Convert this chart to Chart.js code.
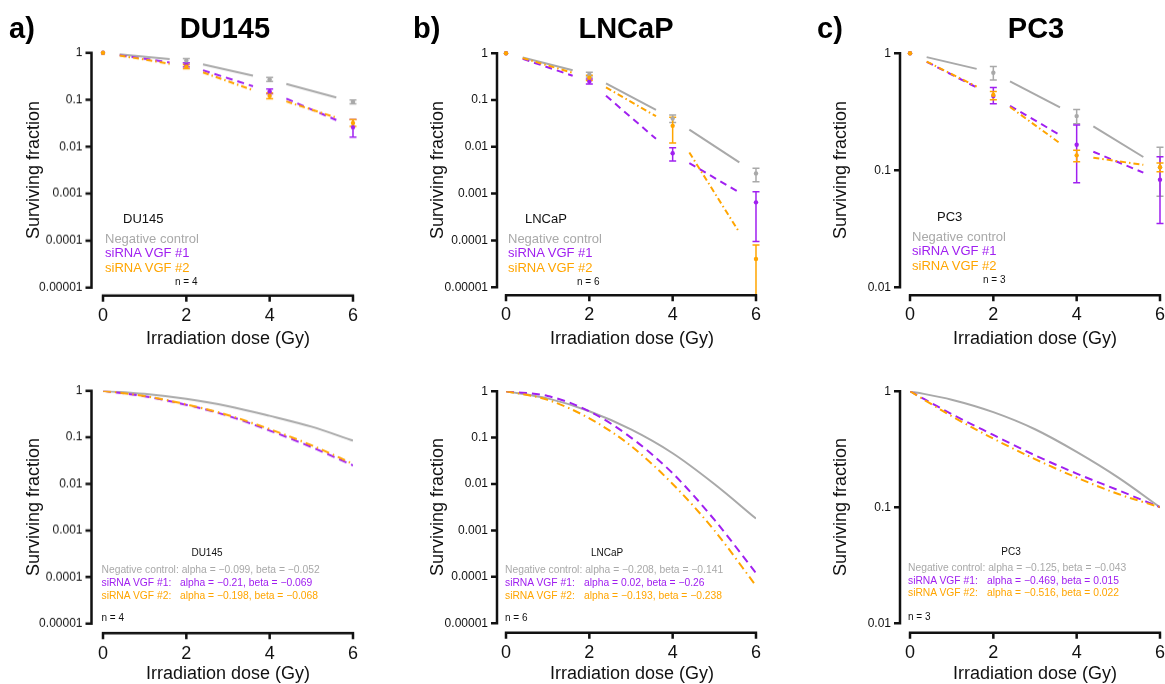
<!DOCTYPE html>
<html>
<head>
<meta charset="utf-8">
<script src="https://cdn.jsdelivr.net/npm/chart.js@4.4.0/dist/chart.umd.min.js"></script>
<style>
  html, body { margin: 0; padding: 0; background: #fff; }
  body { width: 1165px; height: 684px; position: relative; overflow: hidden; font-family: "Liberation Sans", Arial, sans-serif; }
  canvas { position: absolute; }
  .t { position: absolute; white-space: nowrap; line-height: 1; }
</style>
</head>
<body>
<script>
// --- Data ---
const doses = [0, 2, 4, 6];
const doseTicks = [0, 2, 4, 6];
const fitDoses = [0, 1, 2, 3, 4, 5, 6];
const seriesNames = ["Negative control", "siRNA VGF #1", "siRNA VGF #2"];
const wideTicks = [1, 0.1, 0.01, 0.001, 0.0001, 0.00001];
const wideTickLabels = ["1", "0.1", "0.01", "0.001", "0.0001", "0.00001"];
const pc3Ticks = [1, 0.1, 0.01];
const pc3TickLabels = ["1", "0.1", "0.01"];

// measured surviving fraction (mean, lower and upper end of error bar)
const du145Control = [1, 0.68, 0.27, 0.09];
const du145ControlLow = [null, 0.61, 0.245, 0.082];
const du145ControlHigh = [null, 0.75, 0.30, 0.099];
const du145Vgf1 = [1, 0.55, 0.15, 0.026];
const du145Vgf1Low = [null, 0.50, 0.135, 0.016];
const du145Vgf1High = [null, 0.61, 0.17, 0.038];
const du145Vgf2 = [1, 0.51, 0.12, 0.032];
const du145Vgf2Low = [null, 0.46, 0.105, 0.027];
const du145Vgf2High = [null, 0.56, 0.14, 0.038];

const lncapControl = [1, 0.35, 0.040, 0.0027];
const lncapControlLow = [null, 0.31, 0.033, 0.0018];
const lncapControlHigh = [null, 0.39, 0.048, 0.0035];
const lncapVgf1 = [1, 0.25, 0.0073, 0.00065];
const lncapVgf1Low = [null, 0.22, 0.005, 0.000095];
const lncapVgf1High = [null, 0.28, 0.0095, 0.0011];
const lncapVgf2 = [1, 0.30, 0.028, 0.00004];
const lncapVgf2Low = [null, 0.26, 0.012, 0.000001];
const lncapVgf2High = [null, 0.34, 0.043, 0.00008];

const pc3Control = [1, 0.68, 0.29, 0.106];
const pc3ControlLow = [null, 0.59, 0.25, 0.06];
const pc3ControlHigh = [null, 0.77, 0.33, 0.157];
const pc3Vgf1 = [1, 0.43, 0.165, 0.083];
const pc3Vgf1Low = [null, 0.37, 0.078, 0.035];
const pc3Vgf1High = [null, 0.51, 0.243, 0.13];
const pc3Vgf2 = [1, 0.44, 0.134, 0.106];
const pc3Vgf2Low = [null, 0.40, 0.118, 0.097];
const pc3Vgf2High = [null, 0.47, 0.148, 0.115];

// linear-quadratic fit curves, read at 1 Gy steps
const du145FitControl = [1, 0.86, 0.67, 0.47, 0.29, 0.17, 0.085];
const du145FitVgf1 = [1, 0.76, 0.50, 0.29, 0.14, 0.062, 0.025];
const du145FitVgf2 = [1, 0.77, 0.51, 0.30, 0.15, 0.068, 0.027];
const lncapFitControl = [1, 0.70, 0.37, 0.15, 0.046, 0.010, 0.0018];
const lncapFitVgf1 = [1, 0.79, 0.37, 0.10, 0.017, 0.0017, 0.00012];
const lncapFitVgf2 = [1, 0.65, 0.26, 0.066, 0.010, 0.001, 0.000064];
const pc3FitControl = [1, 0.845, 0.66, 0.47, 0.30, 0.18, 0.10];
const pc3FitVgf1 = [1, 0.635, 0.42, 0.28, 0.195, 0.14, 0.10];
const pc3FitVgf2 = [1, 0.61, 0.39, 0.26, 0.18, 0.13, 0.10];

const du145FitText = ["alpha = \u22120.099, beta = \u22120.052", "alpha = \u22120.21, beta = \u22120.069", "alpha = \u22120.198, beta = \u22120.068"];
const lncapFitText = ["alpha = \u22120.208, beta = \u22120.141", "alpha = 0.02, beta = \u22120.26", "alpha = \u22120.193, beta = \u22120.238"];
const pc3FitText = ["alpha = \u22120.125, beta = \u22120.043", "alpha = \u22120.469, beta = 0.015", "alpha = \u22120.516, beta = 0.022"];

// --- Styles ---
const FONT = "'Liberation Sans', Arial, sans-serif";
const COLORS = ["#a9a9a9", "#a020f0", "#ffa500"];
const DASHES = [[], [7, 5], [6, 3, 1.5, 3]];
const FIT_DASHES = [[], [8, 5], [8, 4, 1.5, 4]];

// draws the detached GraphPad-style axes
const offsetAxes = {
  id: "offsetAxes",
  afterDraw(chart, args, opts) {
    const { ctx } = chart;
    const x = chart.scales.x, y = chart.scales.y;
    const ax = x.getPixelForValue(0) - opts.gapX;
    const ay = y.getPixelForValue(y.min) + opts.gapY;
    ctx.save();
    ctx.strokeStyle = "#111";
    ctx.lineWidth = 2.5;
    ctx.beginPath();
    ctx.moveTo(ax, y.getPixelForValue(y.max) - 1.2);
    ctx.lineTo(ax, y.getPixelForValue(y.min) + 1.2);
    y.ticks.forEach((t) => {
      const py = y.getPixelForValue(t.value);
      ctx.moveTo(ax - 6, py);
      ctx.lineTo(ax, py);
    });
    ctx.moveTo(x.getPixelForValue(0) - 1.2, ay);
    ctx.lineTo(x.getPixelForValue(6) + 1.2, ay);
    x.ticks.forEach((t) => {
      const px = x.getPixelForValue(t.value);
      ctx.moveTo(px, ay);
      ctx.lineTo(px, ay + 6);
    });
    ctx.stroke();
    ctx.restore();
  },
};

// connecting lines with gaps near the points, plus error bars
const gapLines = {
  id: "gapLines",
  beforeDatasetsDraw(chart, args, opts) {
    const { ctx } = chart;
    const x = chart.scales.x, y = chart.scales.y;
    const floor = y.getPixelForValue(y.min) + opts.gapY;
    chart.data.datasets.forEach((ds) => {
      if (!ds.low) return;
      const pts = ds.data.map((p) => [x.getPixelForValue(p.x), y.getPixelForValue(p.y)]);
      ctx.save();
      ctx.strokeStyle = ds.borderColor;
      ctx.lineWidth = 2;
      ctx.setLineDash(ds.dash);
      for (let i = 0; i < pts.length - 1; i++) {
        const [x1, y1] = pts[i];
        const [x2, y2] = pts[i + 1];
        ctx.beginPath();
        ctx.moveTo(x1 + 0.2 * (x2 - x1), y1 + 0.2 * (y2 - y1));
        ctx.lineTo(x1 + 0.8 * (x2 - x1), y1 + 0.8 * (y2 - y1));
        ctx.stroke();
      }
      ctx.setLineDash([]);
      ctx.lineWidth = 1.5;
      ds.data.forEach((p, i) => {
        if (ds.low[i] == null) return;
        const px = x.getPixelForValue(p.x);
        const top = y.getPixelForValue(ds.high[i]);
        const rawBot = y.getPixelForValue(ds.low[i]);
        const bot = Math.min(rawBot, floor);
        ctx.beginPath();
        ctx.moveTo(px, top);
        ctx.lineTo(px, bot);
        ctx.moveTo(px - 3.5, top);
        ctx.lineTo(px + 3.5, top);
        if (rawBot < floor) {
          ctx.moveTo(px - 3.5, bot);
          ctx.lineTo(px + 3.5, bot);
        }
        ctx.stroke();
      });
      ctx.restore();
    });
  },
};

function measured(values, low, high, k) {
  return {
    label: seriesNames[k],
    data: doses.map((d, i) => ({ x: d, y: values[i] })),
    low: low,
    high: high,
    dash: DASHES[k],
    borderColor: COLORS[k],
    backgroundColor: COLORS[k],
    pointBackgroundColor: COLORS[k],
    pointBorderWidth: 0,
    pointRadius: 2.2,
    showLine: false,
    order: 3 - k,
    clip: false,
  };
}

function fitted(values, k) {
  return {
    label: seriesNames[k],
    data: fitDoses.map((d, i) => ({ x: d, y: values[i] })),
    borderColor: COLORS[k],
    borderWidth: 2,
    borderDash: FIT_DASHES[k],
    pointRadius: 0,
    cubicInterpolationMode: "monotone",
    order: 3 - k,
  };
}

function makePanel(geo, yTicks, yLabels, datasets) {
  const canvas = document.createElement("canvas");
  let w = geo.x6 - geo.x0 + 100, h = geo.yBot - geo.yTop + 70;
  canvas.width = w;
  canvas.height = h;
  canvas.style.width = w + "px";
  canvas.style.height = h + "px";
  document.body.appendChild(canvas);
  const gapX = geo.x0 - geo.yAxisX;
  const gapY = geo.xAxisY - geo.yBot;
  const chart = new Chart(canvas, {
    type: "line",
    data: { datasets },
    options: {
      responsive: false,
      maintainAspectRatio: false,
      animation: false,
      devicePixelRatio: 1,
      layout: { padding: { left: 0, right: 12, top: 12, bottom: 0 } },
      plugins: {
        legend: { display: false },
        tooltip: { enabled: false },
        offsetAxes: { gapX, gapY },
        gapLines: { gapY },
      },
      scales: {
        x: {
          type: "linear",
          min: 0,
          max: 6,
          afterBuildTicks: (s) => { s.ticks = doseTicks.map((v) => ({ value: v })); },
          afterFit: (s) => { s.height = 50; },
          grid: { display: false, drawTicks: false },
          border: { display: false },
          ticks: { padding: geo.xLabelY - geo.yBot - 10.8, color: "#111", font: { family: FONT, size: 18 }, maxRotation: 0, autoSkip: false },
        },
        y: {
          type: "logarithmic",
          min: yTicks[yTicks.length - 1],
          max: 1,
          afterBuildTicks: (s) => { s.ticks = yTicks.map((v) => ({ value: v })); },
          afterFit: (s) => { s.width = 80; },
          grid: { display: false, drawTicks: false },
          border: { display: false },
          ticks: {
            padding: gapX + 9,
            color: "#111",
            font: { family: FONT, size: 12 },
            autoSkip: false,
            callback: (v) => { const i = yTicks.indexOf(v); return i < 0 ? "" : yLabels[i]; },
          },
        },
      },
    },
    plugins: [gapLines, offsetAxes],
  });
  // size the canvas so the plot area spans exactly the wanted pixels
  let ca = chart.chartArea;
  w += (geo.x6 - geo.x0) - (ca.right - ca.left);
  h += (geo.yBot - geo.yTop) - (ca.bottom - ca.top);
  chart.resize(w, h);
  ca = chart.chartArea;
  canvas.style.left = (geo.x0 - ca.left) + "px";
  canvas.style.top = (geo.yTop - ca.top) + "px";
}

function put(text, x, y, size, color, opts = {}) {
  const d = document.createElement("div");
  d.className = "t";
  d.textContent = text;
  d.style.left = x + "px";
  d.style.top = y + "px";
  d.style.fontSize = size + "px";
  d.style.color = color;
  if (opts.bold) d.style.fontWeight = "bold";
  const tx = opts.center || opts.rotate ? "-50%" : "0";
  d.style.transform = "translate(" + tx + ", -50%)" + (opts.rotate ? " rotate(-90deg)" : "");
  document.body.appendChild(d);
}

// --- Panels ---
const topRow = { yTop: 53, yBot: 287, xAxisY: 295, xLabelY: 315 };
const bottomRow = { yTop: 391, yBot: 623, xAxisY: 632.5, xLabelY: 653 };

makePanel(Object.assign({ x0: 103, x6: 353, yAxisX: 91.5 }, topRow), wideTicks, wideTickLabels, [
  measured(du145Control, du145ControlLow, du145ControlHigh, 0),
  measured(du145Vgf1, du145Vgf1Low, du145Vgf1High, 1),
  measured(du145Vgf2, du145Vgf2Low, du145Vgf2High, 2),
]);
makePanel(Object.assign({ x0: 506, x6: 756, yAxisX: 497 }, topRow), wideTicks, wideTickLabels, [
  measured(lncapControl, lncapControlLow, lncapControlHigh, 0),
  measured(lncapVgf1, lncapVgf1Low, lncapVgf1High, 1),
  measured(lncapVgf2, lncapVgf2Low, lncapVgf2High, 2),
]);
makePanel(Object.assign({ x0: 910, x6: 1160, yAxisX: 900 }, topRow), pc3Ticks, pc3TickLabels, [
  measured(pc3Control, pc3ControlLow, pc3ControlHigh, 0),
  measured(pc3Vgf1, pc3Vgf1Low, pc3Vgf1High, 1),
  measured(pc3Vgf2, pc3Vgf2Low, pc3Vgf2High, 2),
]);

makePanel(Object.assign({ x0: 103, x6: 353, yAxisX: 91.5 }, bottomRow), wideTicks, wideTickLabels, [
  fitted(du145FitControl, 0), fitted(du145FitVgf1, 1), fitted(du145FitVgf2, 2),
]);
makePanel(Object.assign({ x0: 506, x6: 756, yAxisX: 497 }, bottomRow), wideTicks, wideTickLabels, [
  fitted(lncapFitControl, 0), fitted(lncapFitVgf1, 1), fitted(lncapFitVgf2, 2),
]);
makePanel(Object.assign({ x0: 910, x6: 1160, yAxisX: 900 }, bottomRow), pc3Ticks, pc3TickLabels, [
  fitted(pc3FitControl, 0), fitted(pc3FitVgf1, 1), fitted(pc3FitVgf2, 2),
]);

// --- Text ---
put("a)", 9, 28, 29, "#000", { bold: true });
put("DU145", 225, 28, 29, "#000", { bold: true, center: true });
put("b)", 413, 28, 29, "#000", { bold: true });
put("LNCaP", 626, 28, 29, "#000", { bold: true, center: true });
put("c)", 817, 28, 29, "#000", { bold: true });
put("PC3", 1036, 28, 29, "#000", { bold: true, center: true });

const yTitleX = [33, 437, 840];
const xTitleX = [228, 632, 1035];
yTitleX.forEach((x) => {
  put("Surviving fraction", x, 170, 18, "#111", { rotate: true });
  put("Surviving fraction", x, 507, 18, "#111", { rotate: true });
});
xTitleX.forEach((x) => {
  put("Irradiation dose (Gy)", x, 338, 18, "#111", { center: true });
  put("Irradiation dose (Gy)", x, 673, 18, "#111", { center: true });
});

// top legends
function topLegend(name, nameX, nameY, left, firstY, nText, nX) {
  put(name, nameX, nameY, 13, "#111");
  seriesNames.forEach((s, k) => put(s, left, firstY + k * 14.6, 13, COLORS[k]));
  put(nText, nX, firstY + 44, 10, "#111");
}
topLegend("DU145", 123, 218, 105, 237.7, "n = 4", 175);
topLegend("LNCaP", 525, 218, 508, 237.7, "n = 6", 577);
topLegend("PC3", 937, 216, 912, 235.5, "n = 3", 983);

// bottom legends
function fitLegend(name, nameX, nameY, left, firstY, step, colX, texts, nText, nY) {
  put(name, nameX, nameY, 10, "#111", { center: true });
  put(seriesNames[0] + ": " + texts[0], left, firstY, 10.3, COLORS[0]);
  for (let k = 1; k < 3; k++) {
    put(seriesNames[k] + ":", left, firstY + k * step, 10.3, COLORS[k]);
    put(texts[k], colX, firstY + k * step, 10.3, COLORS[k]);
  }
  put(nText, left, nY, 10, "#111");
}
fitLegend("DU145", 207, 553, 101.5, 570, 12.8, 180, du145FitText, "n = 4", 618);
fitLegend("LNCaP", 607, 553, 505, 570, 12.8, 584, lncapFitText, "n = 6", 618);
fitLegend("PC3", 1011, 552, 908, 568.3, 12.5, 987, pc3FitText, "n = 3", 617);
</script>
</body>
</html>
